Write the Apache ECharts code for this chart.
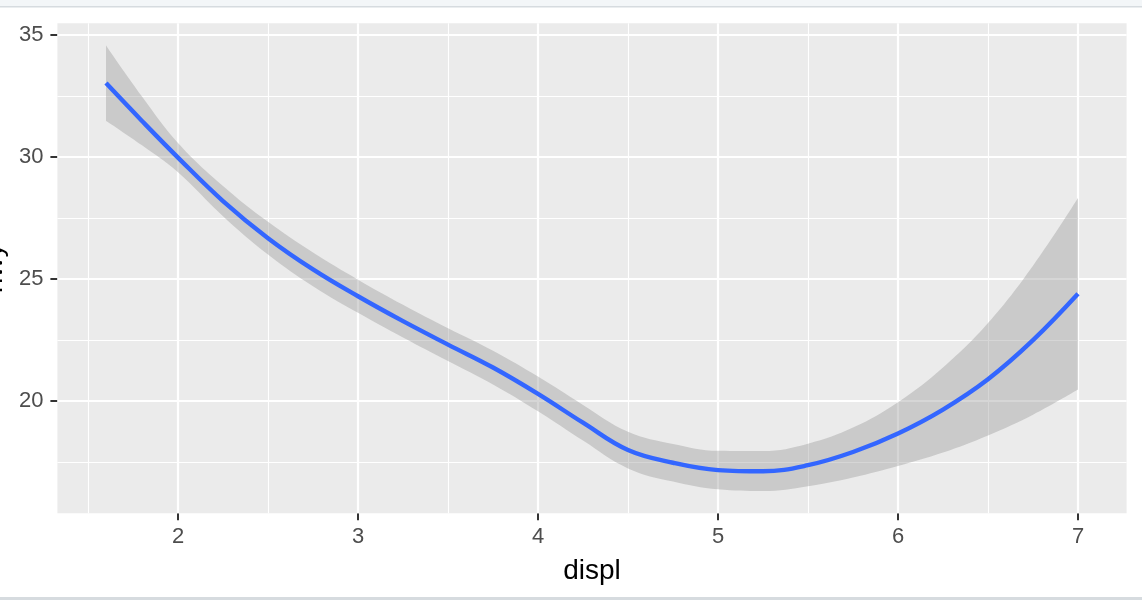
<!DOCTYPE html>
<html>
<head>
<meta charset="utf-8">
<script src="https://cdn.jsdelivr.net/npm/echarts@6/dist/echarts.min.js"></script>
<style>
html,body{margin:0;padding:0;background:#fff;}
#chart{width:1142px;height:600px;}
</style>
</head>
<body>
<div id="chart"></div>
<script>
// x positions of the smooth (displ)
var displ = [1.6, 1.8, 2, 2.25, 2.5, 2.75, 3, 3.25, 3.5, 3.75, 4, 4.25, 4.5, 4.75, 5, 5.25, 5.5, 5.75, 6, 6.25, 6.5, 6.75, 7];
// fitted hwy
var fit = [33.03, 31.48, 29.98, 28.2, 26.68, 25.4, 24.3, 23.28, 22.32, 21.38, 20.3, 19.12, 18.0, 17.48, 17.18, 17.13, 17.38, 17.92, 18.68, 19.66, 20.9, 22.5, 24.4];
// confidence band
var upper = [34.57, 32.48, 30.58, 28.82, 27.35, 26.09, 24.98, 23.95, 22.99, 22.07, 21.01, 19.85, 18.75, 18.25, 17.97, 17.96, 18.26, 18.92, 19.96, 21.38, 23.2, 25.55, 28.32];
var lower = [31.49, 30.48, 29.38, 27.58, 26.01, 24.71, 23.62, 22.61, 21.65, 20.69, 19.59, 18.39, 17.25, 16.71, 16.39, 16.32, 16.52, 16.88, 17.35, 17.9, 18.6, 19.45, 20.48];

// ticks
var xTicks = [2, 3, 4, 5, 6, 7];
var xMinor = [1.5, 2.5, 3.5, 4.5, 5.5, 6.5];
var yTicks = [20, 25, 30, 35];
var yMinor = [17.5, 22.5, 27.5, 32.5];

var xLimits = [1.33, 7.27];
var yLimits = [15.41, 35.48];

// data rows are [hwy, displ] so that stacking happens on hwy
var rows = function (ys) { return displ.map(function (x, i) { return [ys[i], x]; }); };
var bandRows = displ.map(function (x, i) { return [upper[i] - lower[i], x]; });

var gridLines = [];
xMinor.forEach(function (v) { gridLines.push({ xAxis: v, lineStyle: { width: 1.1 } }); });
yMinor.forEach(function (v) { gridLines.push({ yAxis: v, lineStyle: { width: 1.1 } }); });
xTicks.forEach(function (v) { gridLines.push({ xAxis: v, lineStyle: { width: 2.2 } }); });
yTicks.forEach(function (v) { gridLines.push({ yAxis: v, lineStyle: { width: 2.2 } }); });

var font = 'Liberation Sans, Arial, sans-serif';
var chart = echarts.init(document.getElementById('chart'), null, { renderer: 'canvas' });
chart.setOption({
  animation: false,
  backgroundColor: '#ffffff',
  graphic: [
    { type: 'rect', shape: { x: 0, y: 0, width: 1142, height: 6 }, style: { fill: '#f3f6f8' }, silent: true },
    { type: 'rect', shape: { x: 0, y: 6, width: 1142, height: 1.5 }, style: { fill: '#d6dbdf' }, silent: true },
    { type: 'rect', shape: { x: 0, y: 597, width: 1142, height: 3 }, style: { fill: '#d6dbdf' }, silent: true }
  ],
  grid: {
    left: 57.4, right: 15.4, top: 23.3, bottom: 86.7,
    outerBoundsMode: 'none', containLabel: false,
    show: true, backgroundColor: '#ebebeb', borderWidth: 0
  },
  xAxis: {
    type: 'value', min: xLimits[0], max: xLimits[1],
    name: 'displ', nameLocation: 'middle', nameGap: 44,
    nameTextStyle: { fontFamily: font, fontSize: 28, color: '#000' },
    axisLine: { show: false },
    splitLine: { show: false },
    axisTick: { show: true, customValues: xTicks, length: 7, lineStyle: { color: '#333', width: 2 } },
    axisLabel: { customValues: xTicks, margin: 13, fontFamily: font, fontSize: 22, color: '#4d4d4d' }
  },
  yAxis: {
    type: 'value', min: yLimits[0], max: yLimits[1],
    name: 'hwy', nameLocation: 'middle', nameGap: 45, nameRotate: 90,
    nameTextStyle: { fontFamily: font, fontSize: 28, color: '#000' },
    axisLine: { show: false },
    splitLine: { show: false },
    axisTick: { show: true, customValues: yTicks, length: 7, lineStyle: { color: '#333', width: 2 } },
    axisLabel: { customValues: yTicks, margin: 14, fontFamily: font, fontSize: 22, color: '#4d4d4d' }
  },
  series: [
    {
      name: 'grid', type: 'line', data: [], z: 1, silent: true,
      markLine: {
        silent: true, symbol: ['none', 'none'], label: { show: false },
        lineStyle: { color: '#ffffff', type: 'solid' },
        emphasis: { disabled: true },
        animation: false, z: 1,
        data: gridLines
      }
    },
    {
      name: 'lower', type: 'line', data: rows(lower), encode: { x: 1, y: 0 }, stack: 'ci', smooth: 0.4,
      showSymbol: false, lineStyle: { width: 0, opacity: 0 }, z: 2, silent: true
    },
    {
      name: 'band', type: 'line', data: bandRows, encode: { x: 1, y: 0 }, stack: 'ci', smooth: 0.4,
      showSymbol: false, lineStyle: { width: 0, opacity: 0 },
      areaStyle: { color: 'rgba(153,153,153,0.4)', opacity: 1 }, z: 2, silent: true
    },
    {
      name: 'fit', type: 'line', data: rows(fit), encode: { x: 1, y: 0 }, smooth: 0.4, showSymbol: false,
      lineStyle: { color: '#3366FF', width: 4.4 }, z: 3, silent: true
    }
  ]
});
</script>
</body>
</html>
